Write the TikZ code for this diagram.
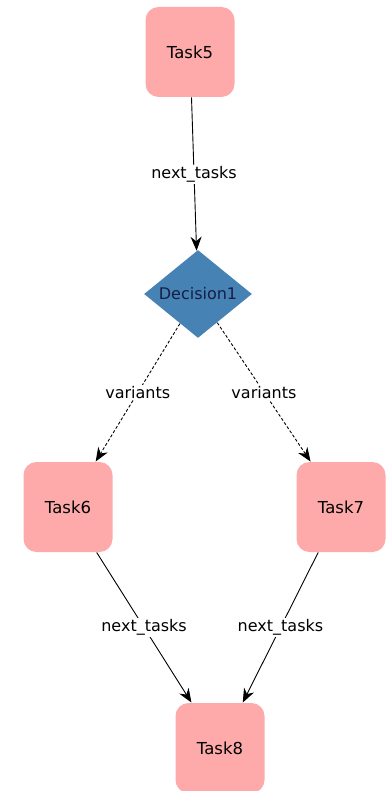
\documentclass[tikz,border=0pt]{standalone}
\usepackage{fontspec}
\setmainfont{DejaVu Sans}
\usepackage{xcolor}
\usepackage{tikz}
\usetikzlibrary{arrows.meta, shapes.geometric, positioning}

\definecolor{taskpink}{RGB}{255,170,170}
\definecolor{decblue}{RGB}{70,130,180}
\definecolor{dectext}{RGB}{20,30,70}

\begin{document}
\begin{tikzpicture}[x=1pt,y=-1pt,>={Stealth[length=14pt,width=11pt]},line width=0.9pt,
    task/.style={fill=taskpink, rounded corners=13pt, minimum width=89pt, minimum height=90pt, font=\fontsize{16.5}{18}\selectfont},
    decision/.style={diamond, fill=decblue, text=dectext, inner sep=0pt, aspect=1.23, minimum width=108pt, minimum height=88pt, font=\fontsize{16}{18}\selectfont},
    lbl/.style={fill=white, inner sep=1.5pt, font=\fontsize{16}{18}\selectfont},
    variant/.style={->, dash pattern=on 3pt off 2pt}]
    \useasboundingbox (0,0) rectangle (385,791);

    % les noeuds
    \node[task] (t5) at (190,52) {Task5};
    \node[decision] (d1) at (198,294) {Decision1};
    \node[task] (t6) at (68,507) {Task6};
    \node[task] (t7) at (341,507) {Task7};
    \node[task] (t8) at (220,748) {Task8};

    % les arcs
    \draw[->] (t5) -- node[lbl] {next\_tasks} (d1);
    \draw[variant] (d1) -- node[lbl] {variants} (t6);
    \draw[variant] (d1) -- node[lbl] {variants} (t7);
    \draw[->] (t6) -- node[lbl] {next\_tasks} (t8);
    \draw[->] (t7) -- node[lbl] {next\_tasks} (t8);
\end{tikzpicture}
\end{document}
